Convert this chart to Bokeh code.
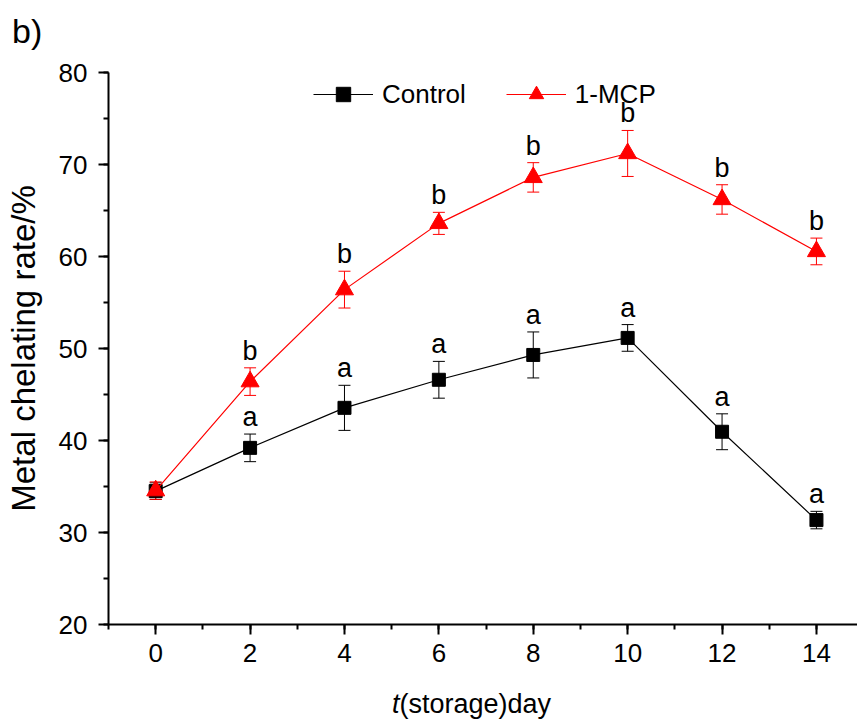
from bokeh.plotting import figure
from bokeh.models import (ColumnDataSource, Whisker, TeeHead, Div,
                          SingleIntervalTicker)
from bokeh.layouts import column
from bokeh.core.properties import value
from bokeh.embed import file_html
from bokeh.resources import INLINE

# ---- data ----
days = [0, 2, 4, 6, 8, 10, 12, 14]
control_mean = [34.5, 39.2, 43.55, 46.6, 49.3, 51.15, 40.95, 31.35]
control_sd = [0.9, 1.5, 2.45, 2.0, 2.5, 1.45, 1.95, 0.95]
mcp_mean = [34.55, 46.4, 56.4, 63.6, 68.6, 71.2, 66.2, 60.55]
mcp_sd = [0.95, 1.5, 2.0, 1.2, 1.6, 2.5, 1.6, 1.45]
control_letters = ["", "a", "a", "a", "a", "a", "a", "a"]
mcp_letters = ["", "b", "b", "b", "b", "b", "b", "b"]

FONT = "Liberation Sans"

def src(mean, sd, letters):
    return ColumnDataSource(dict(
        x=days, y=mean,
        upper=[m + s for m, s in zip(mean, sd)],
        lower=[m - s for m, s in zip(mean, sd)],
        letter=letters,
    ))

cs = src(control_mean, control_sd, control_letters)
ms = src(mcp_mean, mcp_sd, mcp_letters)

p = figure(width=857, height=636, x_range=(-1, 14.87), y_range=(20, 80),
           title=None, output_backend="svg", toolbar_location=None,
           min_border_left=108, min_border_right=0,
           min_border_top=22, min_border_bottom=62)
p.outline_line_color = None
p.xgrid.visible = False
p.ygrid.visible = False
p.background_fill_color = "white"
p.border_fill_color = "white"

for ax in (p.xaxis[0], p.yaxis[0]):
    ax.axis_line_width = 2
    ax.major_tick_line_width = 2
    ax.minor_tick_line_width = 2
    ax.major_tick_out = 10
    ax.major_tick_in = 0
    ax.minor_tick_out = 5
    ax.minor_tick_in = 0
    ax.major_label_text_font = FONT
    ax.major_label_text_font_size = "26px"
    ax.major_label_text_color = "black"
    ax.axis_line_color = "black"
    ax.major_tick_line_color = "black"
    ax.minor_tick_line_color = "black"

p.xaxis[0].ticker = SingleIntervalTicker(interval=2, num_minor_ticks=2)
p.yaxis[0].ticker = SingleIntervalTicker(interval=10, num_minor_ticks=2)
p.xaxis[0].major_label_standoff = 9
p.yaxis[0].major_label_standoff = 11

p.yaxis[0].axis_label = "Metal chelating rate/%"
p.yaxis[0].axis_label_text_font = FONT
p.yaxis[0].axis_label_text_font_size = "33px"
p.yaxis[0].axis_label_text_font_style = "normal"
p.yaxis[0].axis_label_text_color = "black"
p.yaxis[0].axis_label_standoff = 14

# error bars
for s, col in ((cs, "black"), (ms, "red")):
    w = Whisker(source=s, base="x", upper="upper", lower="lower",
                dimension="height", line_color=col, line_width=1,
                upper_head=TeeHead(size=12, line_color=col, line_width=1),
                lower_head=TeeHead(size=12, line_color=col, line_width=1))
    p.add_layout(w)

# series
p.line("x", "y", source=cs, color="black", line_width=1.2, legend_label="Control")
p.scatter("x", "y", source=cs, marker="square", size=13, color="black",
          legend_label="Control")
p.line("x", "y", source=ms, color="red", line_width=1.2, legend_label="1-MCP")
p.scatter("x", "y", source=ms, marker="triangle", size=18, color="red",
          legend_label="1-MCP")

# significance letters
for s in (cs, ms):
    p.text("x", "upper", text="letter", source=s, text_font=value(FONT),
           text_font_size="27px", text_align="center",
           text_baseline="bottom", y_offset=-2, text_color="black")

# legend
lg = p.legend[0]
lg.orientation = "horizontal"
lg.location = (205, 512)
lg.border_line_color = None
lg.background_fill_alpha = 0
lg.padding = 0
lg.margin = 0
lg.spacing = 40
lg.glyph_width = 60
lg.glyph_height = 36
lg.label_standoff = 9
lg.label_text_font = FONT
lg.label_text_font_size = "26px"
lg.label_text_color = "black"

# panel letter (real HTML text)
panel = Div(text="b)", width=857, height=50, margin=0,
            styles={"font-family": FONT, "font-size": "34px",
                    "line-height": "40px", "color": "black",
                    "padding-left": "12px", "padding-top": "11px"})

# x axis title with italic t (real HTML text)
xlabel = Div(text="<i>t</i>(storage)day", width=857, height=38, margin=0,
             styles={"font-family": FONT, "font-size": "27px",
                     "line-height": "31px", "color": "black",
                     "padding-left": "392px", "padding-top": "3px"})

layout = column(panel, p, xlabel, spacing=0)
open("out.html", "w").write(file_html(layout, INLINE))
